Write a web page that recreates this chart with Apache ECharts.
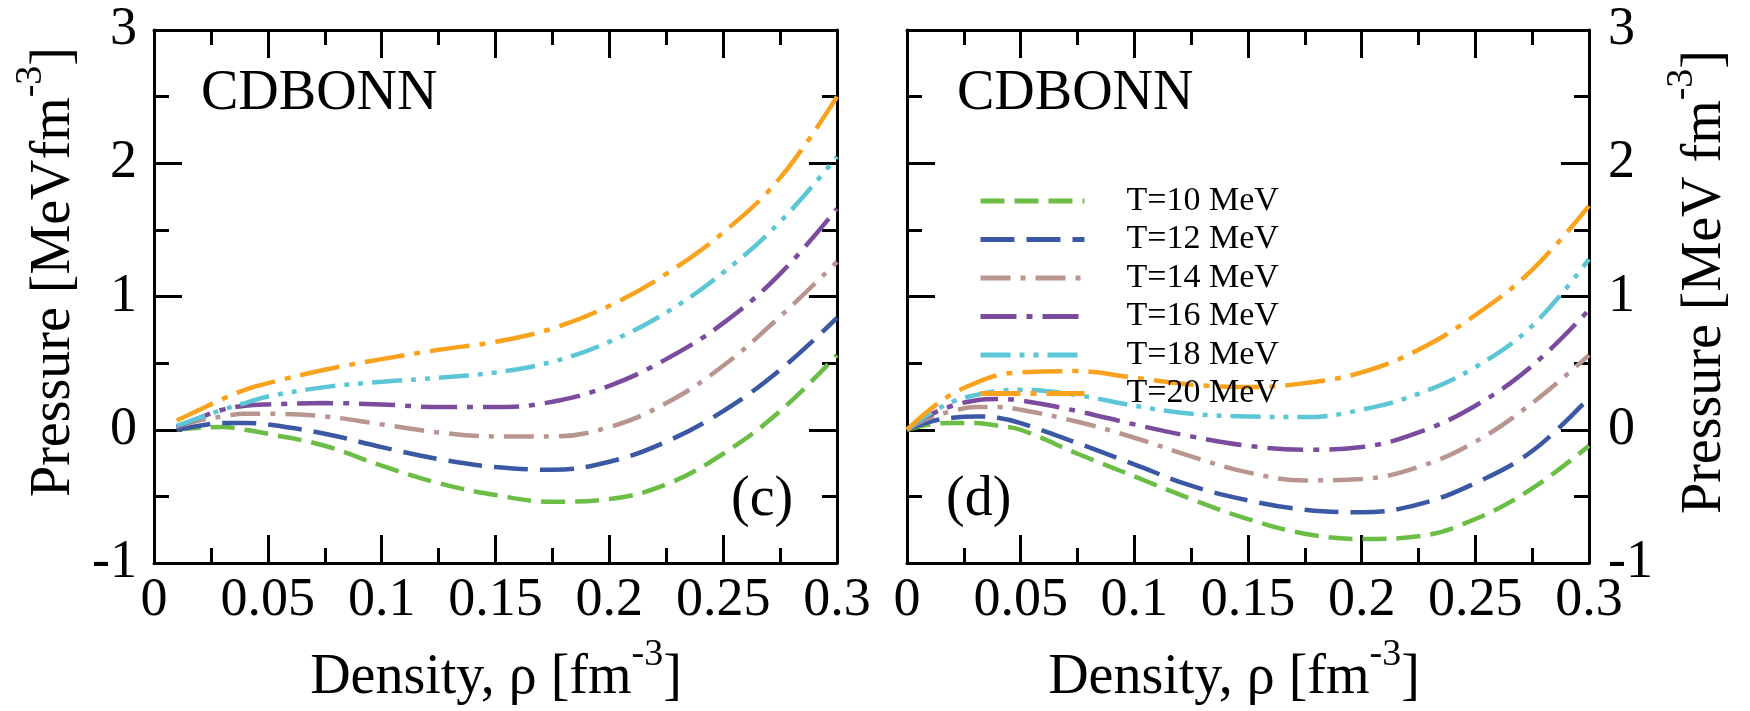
<!DOCTYPE html>
<html>
<head>
<meta charset="utf-8">
<script src="https://cdn.jsdelivr.net/npm/echarts@6/dist/echarts.min.js"></script>
<style>
html,body{margin:0;padding:0;background:#fff;}
#chart{width:1750px;height:711px;}
</style>
</head>
<body>
<div id="chart"></div>
<script>
// ---------- DATA ----------
const seriesNames = ['T=10 MeV', 'T=12 MeV', 'T=14 MeV', 'T=16 MeV', 'T=18 MeV', 'T=20 MeV'];
const xTickLabels = ['0', '0.05', '0.1', '0.15', '0.2', '0.25', '0.3'];
const yTickLabels = ['-1', '0', '1', '2', '3'];

// Panel (c)
const densityC = [0.01, 0.02, 0.03, 0.04, 0.05, 0.075, 0.1, 0.125, 0.15, 0.175, 0.2, 0.225, 0.25, 0.275, 0.3];
const pC_T10 = [0.0, 0.015, 0.02, 0.0, -0.03, -0.12, -0.27, -0.40, -0.49, -0.54, -0.52, -0.41, -0.18, 0.14, 0.56];
const pC_T12 = [0.0, 0.03, 0.05, 0.05, 0.04, -0.03, -0.13, -0.22, -0.28, -0.30, -0.24, -0.09, 0.14, 0.45, 0.84];
const pC_T14 = [0.02, 0.07, 0.10, 0.12, 0.12, 0.10, 0.04, -0.02, -0.05, -0.05, 0.02, 0.20, 0.48, 0.85, 1.26];
const pC_T16 = [0.02, 0.09, 0.15, 0.18, 0.19, 0.20, 0.19, 0.17, 0.17, 0.21, 0.33, 0.53, 0.80, 1.17, 1.66];
const pC_T18 = [0.03, 0.09, 0.15, 0.20, 0.25, 0.32, 0.36, 0.39, 0.43, 0.51, 0.66, 0.88, 1.18, 1.56, 2.05];
const pC_T20 = [0.07, 0.15, 0.23, 0.30, 0.35, 0.45, 0.53, 0.60, 0.66, 0.76, 0.93, 1.17, 1.48, 1.89, 2.50];

// Panel (d)
const densityD = [0, 0.01, 0.02, 0.03, 0.04, 0.05, 0.075, 0.1, 0.125, 0.15, 0.175, 0.2, 0.225, 0.25, 0.275, 0.3];
const pD_T10 = [0, 0.04, 0.05, 0.05, 0.03, 0.0, -0.18, -0.35, -0.52, -0.67, -0.78, -0.82, -0.80, -0.67, -0.44, -0.12];
const pD_T12 = [0, 0.06, 0.09, 0.10, 0.09, 0.05, -0.10, -0.26, -0.42, -0.53, -0.60, -0.62, -0.56, -0.40, -0.16, 0.24];
const pD_T14 = [0, 0.09, 0.14, 0.17, 0.17, 0.15, 0.06, -0.06, -0.20, -0.32, -0.38, -0.37, -0.28, -0.09, 0.20, 0.56];
const pD_T16 = [0, 0.11, 0.18, 0.22, 0.23, 0.22, 0.14, 0.04, -0.05, -0.12, -0.15, -0.13, -0.02, 0.18, 0.48, 0.90];
const pD_T18 = [0, 0.12, 0.21, 0.26, 0.29, 0.30, 0.26, 0.18, 0.12, 0.10, 0.095, 0.15, 0.27, 0.47, 0.78, 1.28];
const pD_T20 = [0, 0.15, 0.27, 0.35, 0.41, 0.43, 0.44, 0.39, 0.34, 0.32, 0.35, 0.43, 0.60, 0.86, 1.20, 1.68];

// ---------- STYLE ----------
const colors = ['#6cbd45', '#3a58a4', '#b8968f', '#7b4c9e', '#5cc6d6', '#f8a21e'];
const dashes = [
  [24, 10],
  [34, 12],
  [30, 10, 5, 10],
  [36, 10, 6, 10],
  [30, 9, 5, 9, 5, 9],
  [40, 10, 6, 10]
];
const FONT = '"Liberation Serif", "Times New Roman", Times, serif';

const panelC = [pC_T10, pC_T12, pC_T14, pC_T16, pC_T18, pC_T20];
const panelD = [pD_T10, pD_T12, pD_T14, pD_T16, pD_T18, pD_T20];

function pairs(xs, ys) { return xs.map((x, i) => [x, ys[i]]); }

function xAxisDef(grid, pos, labels) {
  return {
    type: 'value', gridIndex: grid, position: pos, min: 0, max: 0.3, interval: 0.05,
    axisLine: { show: true, onZero: false, lineStyle: { color: '#000', width: 3 } },
    axisTick: { show: true, inside: true, length: 28, lineStyle: { color: '#000', width: 3 } },
    minorTick: { show: true, splitNumber: 2, length: 15, lineStyle: { color: '#000', width: 3 } },
    splitLine: { show: false }, minorSplitLine: { show: false },
    axisLabel: {
      show: labels, margin: 11, color: '#000', fontFamily: FONT, fontSize: 54,
      formatter: v => xTickLabels[Math.round(v / 0.05)]
    }
  };
}
function yAxisDef(grid, pos, labels, margin) {
  return {
    type: 'value', gridIndex: grid, position: pos, min: -1, max: 3, interval: 1,
    axisLine: { show: true, onZero: false, lineStyle: { color: '#000', width: 3 } },
    axisTick: { show: true, inside: true, length: 28, lineStyle: { color: '#000', width: 3 } },
    minorTick: { show: true, splitNumber: 2, length: 15, lineStyle: { color: '#000', width: 3 } },
    splitLine: { show: false }, minorSplitLine: { show: false },
    axisLabel: {
      show: labels, margin: margin, color: '#000', fontFamily: FONT, fontSize: 54,
      formatter: v => yTickLabels[Math.round(v) + 1]
    }
  };
}

const series = [];
panelC.forEach((ys, i) => {
  series.push({
    name: seriesNames[i], type: 'line', xAxisIndex: 0, yAxisIndex: 0,
    data: pairs(densityC, ys), smooth: 0.4, showSymbol: false, symbol: 'none',
    lineStyle: { color: colors[i], width: 4.5, type: dashes[i], cap: 'butt' },
    itemStyle: { color: colors[i] }
  });
});
panelD.forEach((ys, i) => {
  series.push({
    name: seriesNames[i], type: 'line', xAxisIndex: 2, yAxisIndex: 3,
    data: pairs(densityD, ys), smooth: 0.4, showSymbol: false, symbol: 'none',
    lineStyle: { color: colors[i], width: 4.5, type: dashes[i], cap: 'butt' },
    itemStyle: { color: colors[i] }
  });
});

const titleRich = {
  a: { fontFamily: FONT, fontSize: 56, lineHeight: 84, fill: '#000', color: '#000' },
  s: { fontFamily: FONT, fontSize: 38, lineHeight: 38, verticalAlign: 'top', fill: '#000', color: '#000' }
};
function textEl(text, x, y, opts) {
  return Object.assign({
    type: 'text', x: x, y: y, silent: true,
    style: Object.assign({
      text: text, fill: '#000', font: '56px "Liberation Serif", "Times New Roman", serif',
      align: 'left', verticalAlign: 'middle'
    }, (opts && opts.style) || {})
  }, (opts && opts.el) || {});
}

const option = {
  animation: false,
  backgroundColor: '#fff',
  grid: [
    { left: 154, top: 30, width: 683, height: 533 },
    { left: 907, top: 30, width: 682, height: 533 }
  ],
  xAxis: [
    xAxisDef(0, 'bottom', true),
    xAxisDef(0, 'top', false),
    xAxisDef(1, 'bottom', true),
    xAxisDef(1, 'top', false)
  ],
  yAxis: [
    yAxisDef(0, 'left', true, 17),
    yAxisDef(0, 'right', false, 17),
    yAxisDef(1, 'left', false, 17),
    yAxisDef(1, 'right', true, 19)
  ],
  legend: {
    show: true, orient: 'vertical', left: 973, top: 179,
    data: seriesNames,
    itemWidth: 104, itemHeight: 14, itemGap: 4.5,
    itemStyle: { color: 'rgba(0,0,0,0)', borderColor: 'rgba(0,0,0,0)', borderWidth: 0 },
    lineStyle: { width: 5, cap: 'butt' },
    textStyle: { fontFamily: FONT, fontSize: 34, lineHeight: 34, color: '#000', padding: [0, 0, 0, 37] },
    selectedMode: false
  },
  series: series,
  graphic: [
    textEl('CDBONN', 201, 94),
    textEl('CDBONN', 957, 94),
    textEl('(c)', 731, 500),
    textEl('(d)', 946, 500),
    textEl('{a|Density, ρ [fm}{s|-3}{a|]}', 496, 678, { style: { align: 'center', rich: titleRich } }),
    textEl('{a|Density, ρ [fm}{s|-3}{a|]}', 1234, 678, { style: { align: 'center', rich: titleRich } }),
    textEl('{a|Pressure [MeVfm}{s|-3}{a|]}', 54, 272, { style: { align: 'center', rich: titleRich }, el: { rotation: Math.PI / 2 } }),
    textEl('{a|Pressure [MeV fm}{s|-3}{a|]}', 1705, 282, { style: { align: 'center', rich: titleRich }, el: { rotation: Math.PI / 2 } })
  ]
};

const chart = echarts.init(document.getElementById('chart'), null, { renderer: 'canvas' });
chart.setOption(option);
</script>
</body>
</html>
